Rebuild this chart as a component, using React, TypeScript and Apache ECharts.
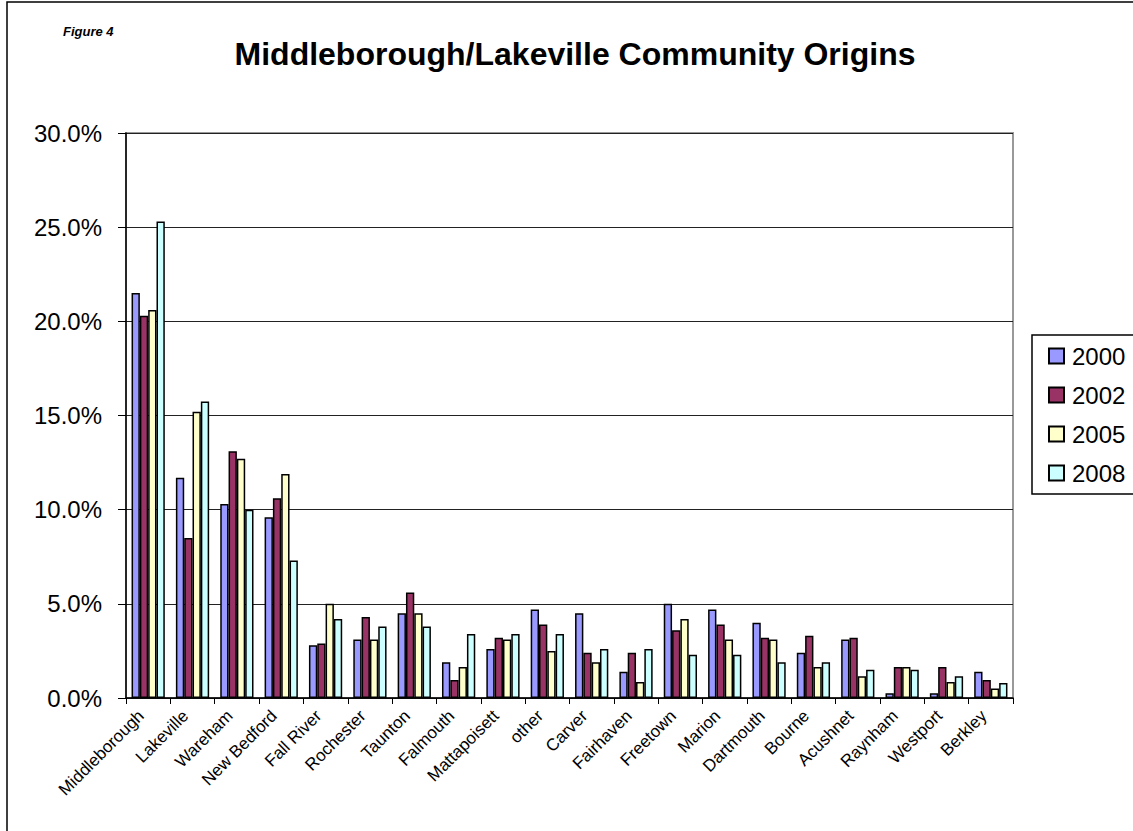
import React, { useEffect, useRef } from "react";
import * as echarts from "echarts";

const categories = [
  "Middleborough", "Lakeville", "Wareham", "New Bedford", "Fall River", "Rochester",
  "Taunton", "Falmouth", "Mattapoisett", "other", "Carver", "Fairhaven", "Freetown",
  "Marion", "Dartmouth", "Bourne", "Acushnet", "Raynham", "Westport", "Berkley",
];
const seriesNames = ["2000", "2002", "2005", "2008"];
const values2000 = [21.5, 11.7, 10.3, 9.6, 2.8, 3.1, 4.5, 1.9, 2.6, 4.7, 4.5, 1.4, 5.0, 4.7, 4.0, 2.4, 3.1, 0.25, 0.25, 1.4];
const values2002 = [20.3, 8.5, 13.1, 10.6, 2.9, 4.3, 5.6, 0.95, 3.2, 3.9, 2.4, 2.4, 3.6, 3.9, 3.2, 3.3, 3.2, 1.65, 1.65, 0.95];
const values2005 = [20.6, 15.2, 12.7, 11.9, 5.0, 3.1, 4.5, 1.65, 3.1, 2.5, 1.9, 0.85, 4.2, 3.1, 3.1, 1.65, 1.15, 1.65, 0.85, 0.5];
const values2008 = [25.3, 15.75, 10.0, 7.3, 4.2, 3.8, 3.8, 3.4, 3.4, 3.4, 2.6, 2.6, 2.3, 2.3, 1.9, 1.9, 1.5, 1.5, 1.15, 0.8];
const colors = ["#9999FF", "#993366", "#FFFFCC", "#CCFFFF"];
const yTicks = { min: 0, max: 30, interval: 5 };

export default function App() {
  const ref = useRef<HTMLDivElement>(null);
  useEffect(() => {
    if (!ref.current) return;
    const chart = echarts.init(ref.current, undefined, { renderer: "svg" });
    const allValues = [values2000, values2002, values2005, values2008];
    const font = "Arial, 'Liberation Sans', sans-serif";
    chart.setOption({
      animation: false,
      backgroundColor: "#fff",
      textStyle: { fontFamily: font },
      grid: {
        left: 126, right: 120, top: 133, bottom: 133,
        show: true, borderColor: "#999", borderWidth: 2, backgroundColor: "transparent",
      },
      legend: {
        orient: "vertical",
        left: 1032,
        top: 335,
        padding: [9, 16, 9, 16],
        itemGap: 15,
        itemWidth: 15,
        itemHeight: 15,
        borderColor: "#000",
        borderWidth: 1.5,
        backgroundColor: "#fff",
        icon: "rect",
        textStyle: { fontSize: 24, color: "#000", fontFamily: font, padding: [0, 0, 0, 3] },
        data: seriesNames,
      },
      xAxis: {
        type: "category",
        data: categories,
        axisLine: { lineStyle: { color: "#000", width: 1.5 } },
        axisTick: { show: true, alignWithLabel: false, length: 6, lineStyle: { color: "#000" } },
        axisLabel: {
          rotate: 45, fontSize: 17, color: "#000", margin: 8, interval: 0, fontFamily: font,
          padding: [0, 10, 0, 0],
        },
      },
      yAxis: {
        type: "value",
        min: yTicks.min,
        max: yTicks.max,
        interval: yTicks.interval,
        axisLine: { show: true, lineStyle: { color: "#000", width: 1.5 } },
        axisTick: { show: true, length: 8, lineStyle: { color: "#000" } },
        axisLabel: {
          fontSize: 24, color: "#000", margin: 24, fontFamily: font,
          formatter: (v: number) => v.toFixed(1) + "%",
        },
        splitLine: { lineStyle: { color: "#222", width: 1.2 } },
      },
      series: seriesNames.map((name, i) => ({
        name,
        type: "bar",
        data: allValues[i],
        barGap: "0%",
        barCategoryGap: "25%",
        itemStyle: { color: colors[i], borderColor: "#000", borderWidth: 1.5 },
      })),
      graphic: [
        {
          type: "rect",
          shape: { x: 7, y: 2, width: 1140, height: 840 },
          style: { fill: "none", stroke: "#000", lineWidth: 1.5 },
          silent: true,
        },
        {
          type: "text",
          x: 63,
          y: 31,
          style: {
            text: "Figure 4",
            font: `italic bold 13px ${font}`,
            fill: "#000",
            textVerticalAlign: "middle",
          },
        },
        {
          type: "text",
          x: 575,
          y: 54,
          style: {
            text: "Middleborough/Lakeville Community Origins",
            font: `bold 32px ${font}`,
            fill: "#000",
            textAlign: "center",
            textVerticalAlign: "middle",
          },
        },
      ],
    });
    return () => chart.dispose();
  }, []);
  return (
    <div
      ref={ref}
      style={{ position: "fixed", left: 0, top: 0, width: 1133, height: 831 }}
    />
  );
}
